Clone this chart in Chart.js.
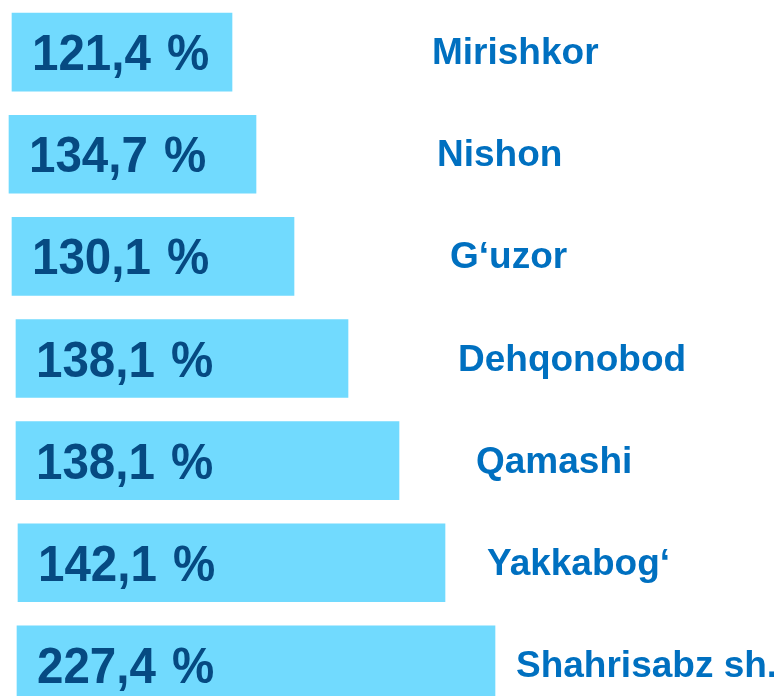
<!DOCTYPE html>
<html>
<head>
<meta charset="utf-8">
<script src="https://cdn.jsdelivr.net/npm/chart.js@4"></script>
<style>
  html, body { margin: 0; padding: 0; background: #fff; overflow: hidden; }
  #grafik { display: block; }
</style>
</head>
<body>
<canvas id="grafik" width="774" height="716"></canvas>
<script>
// ma'lumotlar
const tumanlar = ["Mirishkor", "Nishon", "G\u2018uzor", "Dehqonobod", "Qamashi", "Yakkabog\u2018", "Shahrisabz sh."];
const foizlar = [121.4, 134.7, 130.1, 138.1, 138.1, 142.1, 227.4];
// ustunlarning boshi va oxiri (yashirin o'q bo'yicha)
const ustunBoshi = [12, 9, 12, 16, 16, 18, 17];
const ustunOxiri = [232, 256, 294, 348, 399, 445, 495];

const shrift = '"Liberation Sans", Arial, sans-serif';

// nom yozuvlari qayerdan boshlanadi (x o'qi birligida)
const nomX = [432, 437, 450, 458, 476, 487, 516];

const yozuvlarPlugin = {
    id: "yozuvlar",
    afterDatasetsDraw(chart) {
        const ctx = chart.ctx;
        const meta = chart.getDatasetMeta(0);
        const xScale = chart.scales.x;

        meta.data.forEach((bar, i) => {
            const y = bar.y;
            const chap = Math.min(bar.base, bar.x);

            // foiz qiymati - biroz siqilgan qalin shrift
            const son = foizlar[i].toFixed(1).replace(".", ",");
            ctx.save();
            ctx.fillStyle = "#064A82";
            ctx.font = `bold 50px ${shrift}`;
            ctx.textBaseline = "alphabetic";
            ctx.translate(chap + 20, y + 18);
            ctx.scale(0.95, 1);
            ctx.fillText(son, 0, 0);
            const w = ctx.measureText(son).width;
            ctx.fillText("%", w + 17, 0);
            ctx.restore();

            // tuman nomi
            ctx.save();
            ctx.fillStyle = "#0070C0";
            ctx.font = `bold 37px ${shrift}`;
            ctx.textBaseline = "alphabetic";
            ctx.fillText(tumanlar[i], xScale.getPixelForValue(nomX[i]), y + 12);
            ctx.restore();
        });
    }
};

const grafik = new Chart(document.getElementById("grafik"), {
    type: "bar",
    data: {
        labels: tumanlar,
        datasets: [{
            data: ustunBoshi.map((b, i) => [b, ustunOxiri[i]]),
            backgroundColor: "#71DAFE",
            borderWidth: 0,
            barThickness: 78
        }]
    },
    options: {
        indexAxis: "y",
        responsive: false,
        animation: false,
        devicePixelRatio: 1,
        layout: { padding: { top: 1, left: 0, right: 0, bottom: 0 } },
        scales: {
            x: { display: false, min: 0, max: 774 },
            y: { display: false }
        },
        plugins: {
            legend: { display: false },
            tooltip: { enabled: false },
            title: { display: false }
        }
    },
    plugins: [yozuvlarPlugin]
});
</script>
</body>
</html>
